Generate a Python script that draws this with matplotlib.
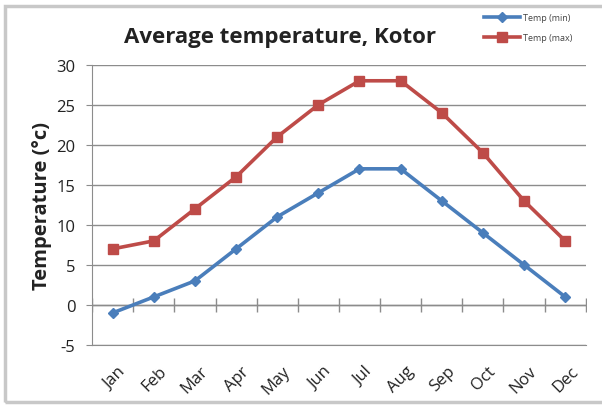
"""
Average temperature in Kotor, Excel style line chart
"""

import numpy as np
import matplotlib.pyplot as plt
from matplotlib.patches import Rectangle

months = ['Jan', 'Feb', 'Mar', 'Apr', 'May', 'Jun',
          'Jul', 'Aug', 'Sep', 'Oct', 'Nov', 'Dec']
temp_min = [-1, 1, 3, 7, 11, 14, 17, 17, 13, 9, 5, 1]
temp_max = [7, 8, 12, 16, 21, 25, 28, 28, 24, 19, 13, 8]
y_ticks = [-5, 0, 5, 10, 15, 20, 25, 30]

blue = '#4a7ebb'
red = '#be4b48'
grid = '#8c8c8c'

plt.rcParams['font.family'] = ['Open Sans', 'DejaVu Sans']

fig = plt.figure(figsize=(6.02, 4.06), dpi=100)
ax = fig.add_axes([0.153, 0.148, 0.82, 0.69])

x = np.arange(len(months))
ax.plot(x, temp_min, color=blue, lw=2.6, marker='D', ms=5.5, label='Temp (min)')
ax.plot(x, temp_max, color=red, lw=2.6, marker='s', ms=6.5, label='Temp (max)')

ax.set_xlim(-0.5, len(months) - 0.5)
ax.set_ylim(-5, 30)
ax.set_yticks(y_ticks)
ax.set_yticklabels([str(v) for v in y_ticks], fontsize=12, color='#222222')
ax.tick_params(axis='y', length=4, color=grid, pad=8)
ax.yaxis.grid(True, color=grid, lw=1)
ax.set_axisbelow(True)

# category labels along the bottom
ax.set_xticks(x + 0.12)
ax.set_xticklabels(months, rotation=45, fontsize=12, ha='right',
                   rotation_mode='anchor', color='#222222')
ax.tick_params(axis='x', length=0, pad=13)

for side in ['top', 'right']:
    ax.spines[side].set_visible(False)
ax.spines['left'].set_color(grid)
ax.spines['bottom'].set_color(grid)

# category axis crossing at zero, with tick marks between categories
bounds = np.arange(len(months) + 1) - 0.5
ax.axhline(0, color=grid, lw=1, zorder=1)
ax.plot(bounds, np.zeros(len(bounds)), linestyle='none', marker='|',
        ms=10, mew=1, color=grid, zorder=1)

ax.set_ylabel('Temperature (°c)', fontsize=14.5, fontweight='bold', labelpad=3,
              color='#222222')

fig.text(0.465, 0.908, 'Average temperature, Kotor', ha='center', va='center',
         fontsize=16, fontweight='bold', color='#222222')

leg = fig.legend(loc='upper left', bbox_to_anchor=(0.79, 0.985), frameon=False,
                 fontsize=6.5, handlelength=4, labelspacing=1.2,
                 handletextpad=0.3, labelcolor='#444444')

# figure frame
fig.patches.append(Rectangle((0.008, 0.008), 1.2, 0.975, transform=fig.transFigure,
                             fill=False, edgecolor='#c8c8c8', lw=2.5))

fig.savefig('out.png', dpi=100)
